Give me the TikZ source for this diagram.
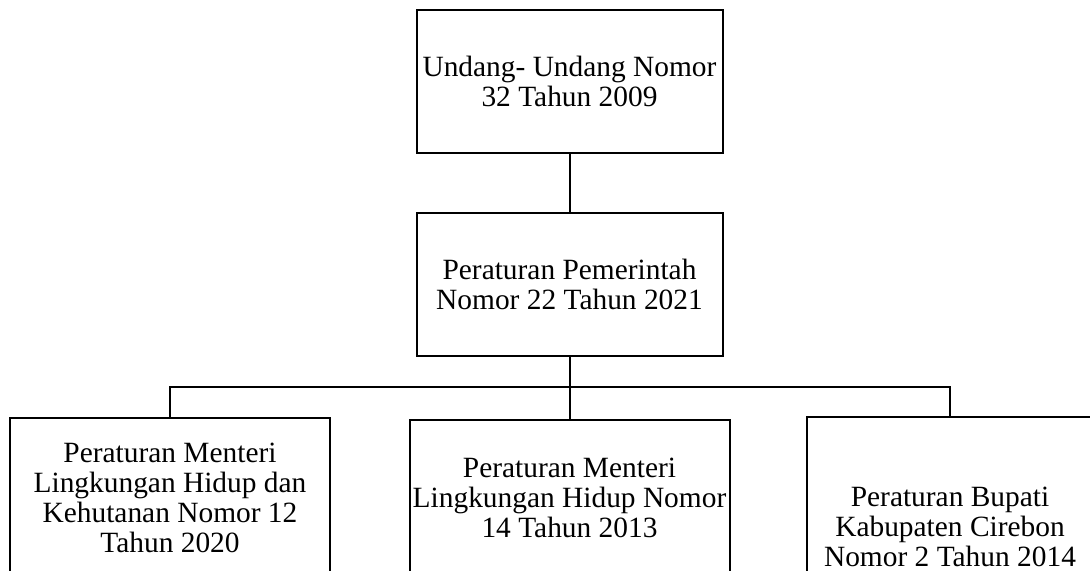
\documentclass[tikz,border=0pt]{standalone}
\usepackage{fontspec}
\setmainfont{Liberation Serif}
\usetikzlibrary{positioning}

\begin{document}
\begin{tikzpicture}[x=0.5pt,y=-0.5pt,
  lawbox/.style={draw,line width=1pt,align=center,inner sep=0pt,font=\fontsize{14.7}{15}\selectfont},
  wire/.style={line width=1pt}]
  \useasboundingbox (0,0) rectangle (1090,571);
  %top
  \node[lawbox,minimum width=153pt,minimum height=71.5pt] (uu) at (569.5,81.5) {Undang- Undang Nomor\\32 Tahun 2009};
  \node[lawbox,minimum width=153pt,minimum height=71.5pt] (pp) at (569.5,284.5) {Peraturan Pemerintah\\Nomor 22 Tahun 2021};
  %bottom row
  \node[lawbox,minimum width=160pt,minimum height=79.5pt] (pmlhk) at (170,497.5) {Peraturan Menteri\\Lingkungan Hidup dan\\Kehutanan Nomor 12\\Tahun 2020};
  \node[lawbox,minimum width=160pt,minimum height=78pt] (pmlh) at (569.5,498) {Peraturan Menteri\\Lingkungan Hidup Nomor\\14 Tahun 2013};
  \node[lawbox,minimum width=143pt,minimum height=110pt] (perbup) at (950,527) {Peraturan Bupati\\Kabupaten Cirebon\\Nomor 2 Tahun 2014};
  %lines
  \coordinate (bus) at (569.5,387);
  \draw[wire] (uu.south) -- (pp.north);
  \draw[wire] (pp.south) -- (bus) -- (pmlh.north);
  \draw[wire] (bus) -| (pmlhk.north);
  \draw[wire] (bus) -| (perbup.north);
\end{tikzpicture}
\end{document}
